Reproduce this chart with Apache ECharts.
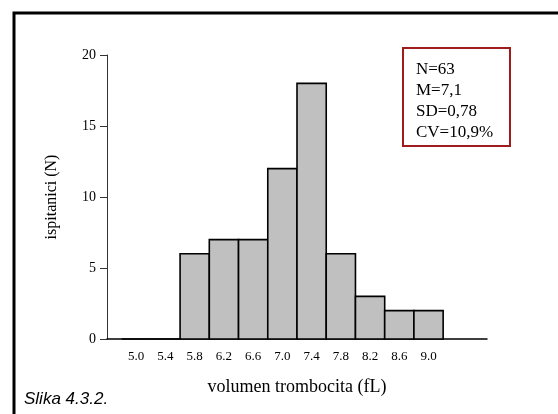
<!DOCTYPE html>
<html>
<head>
<meta charset="utf-8">
<script src="https://cdn.jsdelivr.net/npm/echarts@6/dist/echarts.min.js"></script>
<style>
html,body{margin:0;padding:0;background:#fff;}
#chart{width:558px;height:414px;}
</style>
</head>
<body>
<div id="chart"></div>
<script>
const binCenters = [5.0, 5.4, 5.8, 6.2, 6.6, 7.0, 7.4, 7.8, 8.2, 8.6, 9.0];
const binLabels = ['5.0', '5.4', '5.8', '6.2', '6.6', '7.0', '7.4', '7.8', '8.2', '8.6', '9.0'];
const counts = [0, 0, 6, 7, 7, 12, 18, 6, 3, 2, 2];
const binWidth = 0.4;
const yTicks = [0, 5, 10, 15, 20];
const statsLines = ['N=63', 'M=7,1', 'SD=0,78', 'CV=10,9%'];
const xTitle = 'volumen trombocita (fL)';
const yTitle = 'ispitanici (N)';
const caption = 'Slika 4.3.2.';

const SERIF = "'Liberation Serif', 'Times New Roman', serif";
const chart = echarts.init(document.getElementById('chart'), null, {renderer: 'canvas'});

const option = {
  animation: false,
  backgroundColor: '#fff',
  grid: {left: 107, right: 71, top: 55, bottom: 75, containLabel: false},
  xAxis: {
    type: 'value',
    min: 4.6,
    max: 9.8,
    splitLine: {show: false},
    axisTick: {show: false},
    axisLine: {show: true, onZero: false, lineStyle: {color: '#000', width: 1.5}},
    axisLabel: {
      customValues: binCenters,
      formatter: function (v) {
        const i = binCenters.findIndex(c => Math.abs(c - v) < 1e-6);
        return i >= 0 ? binLabels[i] : '';
      },
      fontFamily: SERIF, fontSize: 13, color: '#000', margin: 11
    },
    name: xTitle,
    nameLocation: 'middle',
    nameGap: 39,
    nameTextStyle: {fontFamily: SERIF, fontSize: 18, color: '#000'}
  },
  yAxis: {
    type: 'value',
    min: yTicks[0],
    max: yTicks[yTicks.length - 1],
    interval: 5,
    splitLine: {show: false},
    axisLine: {show: true, lineStyle: {color: '#333', width: 1}},
    axisTick: {show: true, length: 7, lineStyle: {color: '#333'}},
    axisLabel: {fontFamily: SERIF, fontSize: 14, color: '#000', margin: 11},
    name: yTitle,
    nameLocation: 'middle',
    nameGap: 47,
    nameRotate: 90,
    nameTextStyle: {fontFamily: SERIF, fontSize: 16, color: '#000'}
  },
  series: [{
    type: 'custom',
    data: binCenters.map((c, i) => [c, counts[i]]),
    encode: {x: 0, y: 1},
    renderItem: function (params, api) {
      const x = api.value(0), y = api.value(1);
      const p0 = api.coord([x - binWidth / 2, y]);
      const p1 = api.coord([x + binWidth / 2, 0]);
      return {
        type: 'rect',
        shape: {x: p0[0], y: p0[1], width: p1[0] - p0[0], height: p1[1] - p0[1]},
        style: {fill: '#c0c0c0', stroke: '#000', lineWidth: 1.6}
      };
    }
  }],
  graphic: [
    {
      type: 'rect', left: 11.5, top: 10.5, silent: true,
      shape: {x: 0, y: 0, width: 620, height: 520},
      style: {fill: 'none', stroke: '#000', lineWidth: 3}
    },
    {
      type: 'rect', silent: true,
      shape: {x: 403, y: 48, width: 107, height: 98},
      style: {fill: '#fff', stroke: '#a01c1c', lineWidth: 2}
    },
    {
      type: 'text', silent: true, x: 416, y: 59,
      style: {
        text: statsLines.join('\n'),
        font: "17px 'Liberation Serif'",
        lineHeight: 21,
        fill: '#000',
        textVerticalAlign: 'top'
      }
    },
    {
      type: 'text', silent: true, x: 24, y: 391,
      style: {
        text: caption,
        font: "italic 17px 'Liberation Sans'",
        fill: '#000'
      }
    }
  ]
};
chart.setOption(option);
</script>
</body>
</html>
